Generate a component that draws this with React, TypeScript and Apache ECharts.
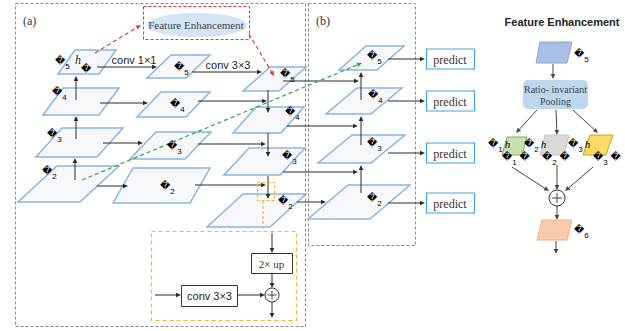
import React, { useEffect, useRef } from "react";
import * as echarts from "echarts";

// ---- content ----
const REPL = "\uFFFD";
const levels = ["5", "4", "3", "2"];
const predictTexts = ["predict", "predict", "predict", "predict"];
const convTexts = ["conv 1×1", "conv 3×3"];
const branchIdx = ["1", "2", "3"];
const panelTitles = ["(a)", "(b)"];
const feTitle = "Feature Enhancement";
const poolLines = ["Ratio- invariant", "Pooling"];
const upText = "2× up";
const fuseConvText = "conv 3×3";

// ---- layout (parallelograms: yTop, yBottom, xBottomLeft, width, slant) ----
type P = [number, number, number, number, number];
const colC: P[] = [[50, 74, 58, 41, 17], [88, 115, 43, 56, 20], [128, 157, 36, 61, 26], [166, 202, 18, 62, 39]];
const colM: P[] = [[55, 78, 147, 39, 24], [92, 117, 137, 49, 24], [132, 159, 130, 55, 26], [168, 203, 113, 77, 20]];
const colP: P[] = [[67, 91, 243, 36, 27], [107, 133, 233, 48, 23], [148, 175, 224, 56, 25], [194, 227, 207, 63, 36]];
const colN: P[] = [[46, 70, 339, 38, 27], [88, 114, 326, 45, 31], [135, 163, 318, 53, 34], [185, 219, 308, 62, 40]];
const labC = [[55, 62], [52, 93], [47, 135], [42, 172]];
const labM = [[174, 68], [170, 105], [167, 147], [160, 187]];
const labP = [[280, 75], [285, 113], [282, 157], [278, 202]];
const labN = [[367, 57], [368, 96], [367, 144], [367, 199]];
const predictY = [59, 101, 153, 203];

const ARROW = "#2b2b2b";

function para(p: P, fill: string, stroke: string, lw = 1.5) {
  const [yt, yb, bl, w, s] = p;
  return {
    type: "polygon",
    shape: { points: [[bl + s, yt], [bl + s + w, yt], [bl + w, yb], [bl, yb]] },
    style: { fill, stroke, lineWidth: lw },
  };
}

function arrow(x1: number, y1: number, x2: number, y2: number, color = ARROW, lw = 1, dash?: number[]) {
  const a = Math.atan2(y2 - y1, x2 - x1);
  const L = 5, W = 2.3;
  const bx = x2 - L * Math.cos(a), by = y2 - L * Math.sin(a);
  return [
    { type: "line", shape: { x1, y1, x2: bx, y2: by }, style: { stroke: color, lineWidth: lw, lineDash: dash } },
    {
      type: "polygon",
      shape: { points: [[x2, y2], [bx + W * Math.sin(a), by - W * Math.cos(a)], [bx - W * Math.sin(a), by + W * Math.cos(a)]] },
      style: { fill: color },
    },
  ];
}

function line(x1: number, y1: number, x2: number, y2: number, color = ARROW, lw = 1, dash?: number[]) {
  return { type: "line", shape: { x1, y1, x2, y2 }, style: { stroke: color, lineWidth: lw, lineDash: dash } };
}

function text(x: number, y: number, t: string, opts: any = {}) {
  return {
    type: "text",
    x, y,
    style: {
      text: t,
      fontSize: 11,
      fontFamily: "Liberation Sans",
      fill: "#222",
      align: "center",
      verticalAlign: "middle",
      ...opts,
    },
  };
}

const symRich = {
  m: { fontFamily: "DejaVu Sans", fontSize: 10, color: "#111", lineHeight: 15, verticalAlign: "top" },
  s: { fontFamily: "Liberation Sans", fontSize: 8, color: "#333", lineHeight: 15, verticalAlign: "bottom" },
  h: { fontFamily: "Liberation Serif", fontStyle: "italic", fontSize: 11, color: "#222", lineHeight: 15, verticalAlign: "top", padding: [0, 0, 0, 2] },
  g: { fontSize: 10, lineHeight: 15 },
};

// symbol with subscript, optional trailing italic h or a second symbol
function sym(x: number, y: number, sub: string, tail = "") {
  let t = `{m|${REPL}}`;
  if (sub) t += `{s|${sub}}`;
  if (tail === "h") t += `{h|h}`;
  if (tail === "w") t += `{g| }{m|${REPL}}`;
  return {
    type: "text",
    x, y: y + 1,
    style: { text: t, rich: symRich, align: "left", verticalAlign: "middle" },
  };
}

function dashedRect(x: number, y: number, w: number, h: number, color: string, dash: number[], lw = 1) {
  return { type: "rect", shape: { x, y, width: w, height: h }, style: { fill: "none", stroke: color, lineWidth: lw, lineDash: dash } };
}

function buildElements() {
  const els: any[] = [];
  // panels
  els.push(dashedRect(15.5, 3.5, 290, 323, "#8a8a8a", [3, 2]));
  els.push(dashedRect(308.5, 3.5, 107, 242, "#8a8a8a", [3, 2]));
  els.push(text(23, 21, panelTitles[0], { fontFamily: "Liberation Serif", fontSize: 12, align: "left", fill: "#333" }));
  els.push(text(316, 21, panelTitles[1], { fontFamily: "Liberation Serif", fontSize: 12, align: "left", fill: "#333" }));

  // parallelograms
  const pf = "#f6f8fb", ps = "#86b6e2";
  [colC, colM, colP, colN].forEach((col) => col.forEach((p) => els.push(para(p, pf, ps))));

  // FE box
  els.push({ type: "ellipse", shape: { cx: 197, cy: 25, rx: 50, ry: 12 }, style: { fill: "#d3e4f4" } });
  els.push(dashedRect(143.5, 6.5, 106, 33, "#e8323c", [3, 2]));
  els.push(text(196, 25, feTitle, { fontFamily: "Liberation Serif", fontSize: 11, fill: "#444" }));

  // col C up arrows
  els.push(...arrow(76, 100, 76, 76));
  els.push(...arrow(76, 139, 76, 116));
  els.push(...arrow(75, 180, 75, 158));
  // lateral C->M
  els.push(...arrow(97, 67, 157, 67));
  els.push(...arrow(100, 103, 148, 103));
  els.push(...arrow(103, 143, 143, 143));
  els.push(...arrow(97, 186, 128, 186));
  els.push(text(134, 60, convTexts[0], { fontSize: 11 }));
  // M5->P5
  els.push(...arrow(192, 72, 262, 72));
  els.push(text(228, 65, convTexts[1], { fontSize: 11 }));
  // M -> junctions, top-down
  els.push(...arrow(198, 101, 267, 101));
  els.push(...arrow(268, 90, 268, 113));
  els.push(...arrow(198, 144, 266, 144));
  els.push(...arrow(268, 133, 268, 157));
  els.push(...arrow(195, 185, 266, 185));
  els.push(...arrow(268, 176, 268, 199));

  // P -> N
  els.push(...arrow(283, 81, 359, 81));
  els.push(...arrow(361, 100, 361, 72));
  els.push(...arrow(287, 126, 358, 126));
  els.push(...arrow(361, 145, 361, 116));
  els.push(...arrow(283, 172, 358, 172));
  els.push(...arrow(361, 193, 361, 165));
  els.push(...arrow(297, 202, 326, 202));

  // predict
  predictY.forEach((y, i) => {
    els.push(...arrow(388, y, 425, y));
    els.push({ type: "rect", shape: { x: 426.5, y: y - 10, width: 48, height: 20 }, style: { fill: "#fff", stroke: "#3aa6dc", lineWidth: 1.2 } });
    els.push(text(450, y + 1, predictTexts[i], { fontFamily: "Liberation Serif", fontSize: 12, fill: "#333" }));
  });

  // yellow detail
  const Y = "#f5b730";
  els.push(dashedRect(257.5, 182.5, 17, 18, Y, [3, 2], 1.2));
  els.push(line(263, 201, 263, 231, Y, 1.2, [3, 2]));
  els.push(dashedRect(151.5, 231.5, 145, 89, Y, [4, 3], 1.2));
  els.push(...arrow(272, 233, 272, 253));
  els.push({ type: "rect", shape: { x: 251.5, y: 253.5, width: 41, height: 20 }, style: { fill: "#fff", stroke: "#333", lineWidth: 1 } });
  els.push(text(271.5, 264, upText, { fontFamily: "Liberation Serif", fontSize: 11, fill: "#333" }));
  els.push(...arrow(272, 274, 272, 288));
  els.push(...arrow(155, 295, 181, 295));
  els.push({ type: "rect", shape: { x: 181.5, y: 285.5, width: 56, height: 21 }, style: { fill: "#fff", stroke: "#333", lineWidth: 1 } });
  els.push(text(209.5, 296, fuseConvText, { fontSize: 11 }));
  els.push(...arrow(238, 295, 265, 295));
  els.push({ type: "circle", shape: { cx: 272, cy: 295, r: 7 }, style: { fill: "#fff", stroke: "#333", lineWidth: 1 } });
  els.push(line(267.5, 295, 276.5, 295, "#333", 0.9));
  els.push(line(272, 290.5, 272, 299.5, "#333", 0.9));
  els.push(...arrow(272, 302, 272, 318));

  // dashed guides
  els.push(...arrow(82, 180, 362, 63, "#2aa83a", 1.2, [4, 3]));
  els.push(...arrow(95, 53, 141, 25, "#e8323c", 1.2, [4, 3]));
  els.push(...arrow(249, 34, 274, 76, "#e8323c", 1.2, [4, 3]));

  // level labels
  levels.forEach((lv, i) => {
    els.push(sym(labC[i][0], labC[i][1], lv));
    els.push(sym(labM[i][0], labM[i][1], lv));
    els.push(sym(labP[i][0], labP[i][1], lv));
    els.push(sym(labN[i][0], labN[i][1], lv));
  });
  els.push(text(78, 60, "h", { fontFamily: "Liberation Serif", fontStyle: "italic", fontSize: 12, fill: "#222" }));
  els.push(sym(81, 70, ""));

  // ---- right panel ----
  els.push(text(562, 22, feTitle, { fontFamily: "Liberation Sans", fontWeight: "bold", fontSize: 11, fill: "#222" }));
  els.push({ type: "polygon", shape: { points: [[540, 42], [572, 42], [567, 63], [536, 63]] }, style: { fill: "#a9bfe6", stroke: "#8ea9d8", lineWidth: 1 } });
  els.push(sym(574, 55, levels[0]));
  els.push(...arrow(553, 64, 553, 79, "#444"));
  els.push({ type: "rect", shape: { x: 523, y: 80, width: 65, height: 29, r: 5 }, style: { fill: "#bdd7ee" } });
  els.push(text(555.5, 89, poolLines[0], { fontFamily: "Liberation Serif", fontSize: 10, fill: "#444" }));
  els.push(text(555.5, 101, poolLines[1], { fontFamily: "Liberation Serif", fontSize: 10, fill: "#444" }));
  els.push(...arrow(537, 110, 516, 133, "#444"));
  els.push(...arrow(556, 110, 557, 135, "#444"));
  els.push(...arrow(573, 110, 598, 133, "#444"));

  const bFill = ["#c5e0b3", "#d9d9d9", "#ffd966"];
  const bStroke = ["#7cb45a", "#c8c8c8", "#c9a227"];
  const bShape = [[502, 137, 20, 5, 18], [540, 135, 24, 5, 20], [583, 135, 23, 7, 20]];
  const bHLab = [488, 524, 568];
  const bWLab = [502, 542, 593];
  branchIdx.forEach((b, i) => {
    const [bl, yt, w, s, h] = bShape[i];
    els.push({ type: "polygon", shape: { points: [[bl + s, yt], [bl + s + w, yt], [bl + w, yt + h], [bl, yt + h]] }, style: { fill: bFill[i], stroke: bStroke[i], lineWidth: 1 } });
    els.push(sym(bHLab[i], 145, b, "h"));
    els.push(sym(bWLab[i], 158, b, "w"));
  });
  els.push(...arrow(512, 167, 549, 191, "#444"));
  els.push(...arrow(557, 165, 557, 190, "#444"));
  els.push(...arrow(593, 167, 565, 191, "#444"));
  els.push({ type: "circle", shape: { cx: 557, cy: 198, r: 8 }, style: { fill: "#fff", stroke: "#333", lineWidth: 1 } });
  els.push(line(552, 198, 562, 198, "#333", 0.9));
  els.push(line(557, 193, 557, 203, "#333", 0.9));
  els.push(...arrow(557, 206, 557, 220, "#444"));
  els.push({ type: "polygon", shape: { points: [[542, 220], [572, 220], [567, 240], [537, 240]] }, style: { fill: "#f8cbad", stroke: "#f4b183", lineWidth: 1 } });
  els.push(sym(574, 231, "6"));
  els.push(...arrow(556, 241, 556, 254, "#444"));
  return els;
}

export default function App() {
  const ref = useRef<HTMLDivElement>(null);
  useEffect(() => {
    if (!ref.current) return;
    const chart = echarts.init(ref.current, undefined, { renderer: "svg" });
    chart.setOption({
      animation: false,
      backgroundColor: "#fff",
      graphic: { elements: buildElements() },
    });
    return () => chart.dispose();
  }, []);
  return <div ref={ref} style={{ position: "fixed", left: 0, top: 0, width: 625, height: 331, background: "#fff" }} />;
}
